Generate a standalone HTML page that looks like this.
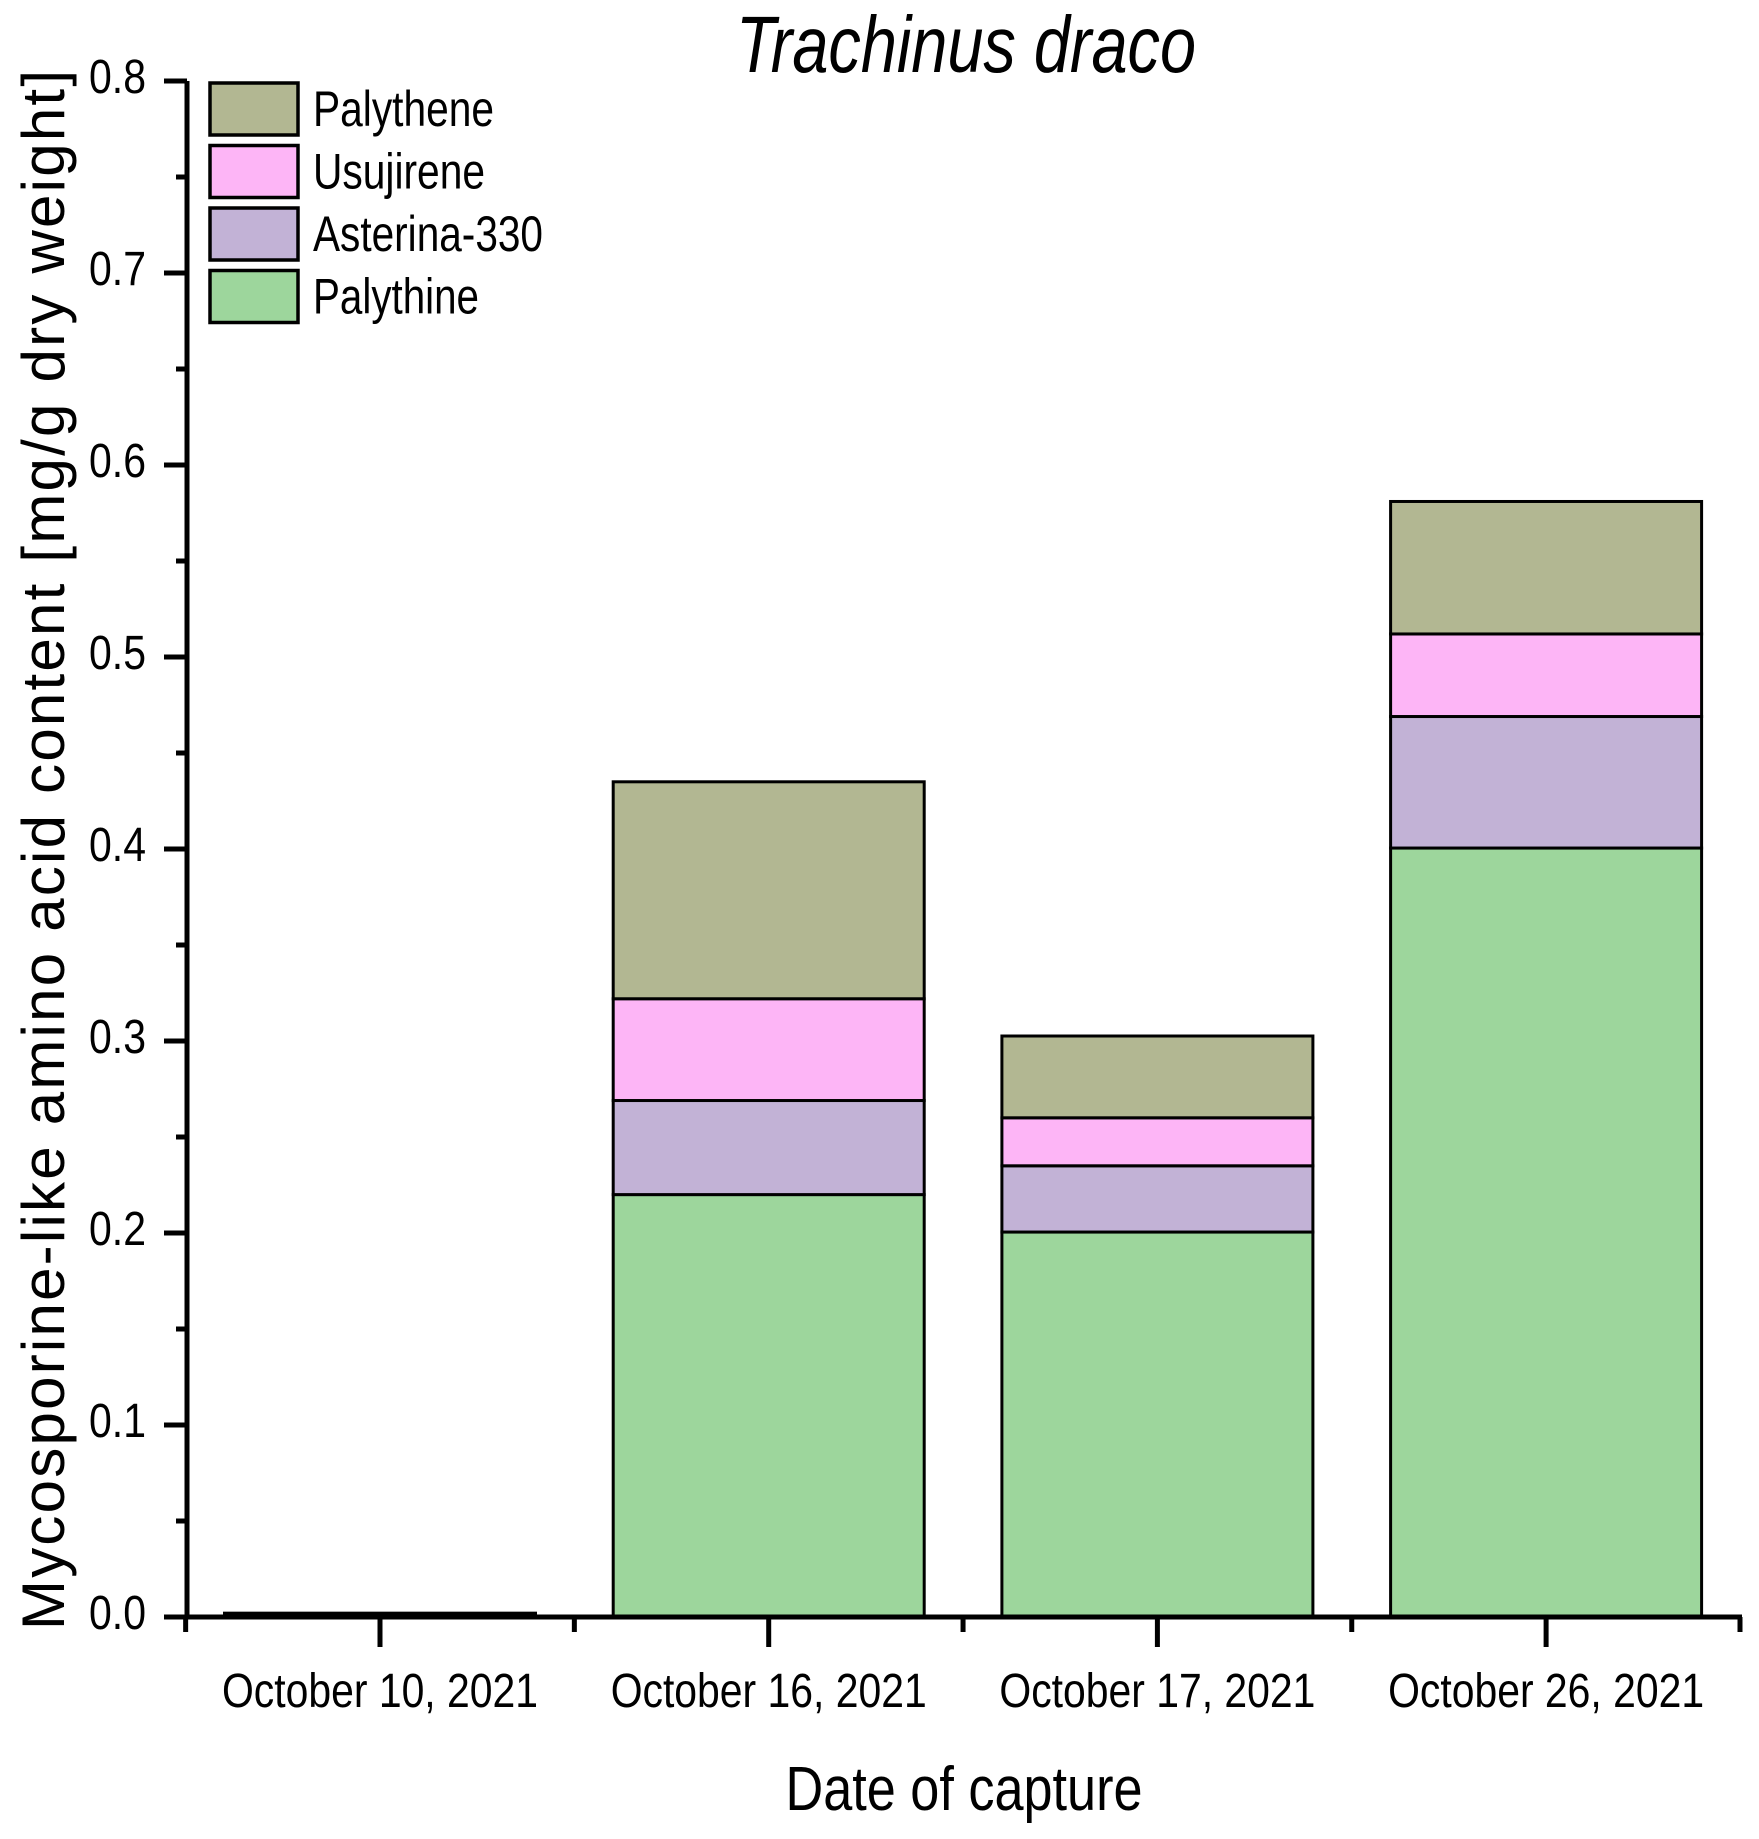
<!DOCTYPE html>
<html><head><meta charset="utf-8"><style>
html,body{margin:0;padding:0;background:#fff;}
svg{display:block;font-family:"Liberation Sans Narrow","Liberation Sans",sans-serif;}
</style></head><body>
<svg id="chart" width="1759" height="1839" viewBox="0 0 1759 1839" xmlns="http://www.w3.org/2000/svg">
<text x="966" y="72" font-size="80" font-style="italic" text-anchor="middle" textLength="460" lengthAdjust="spacingAndGlyphs">Trachinus draco</text>
<text transform="translate(64,850) rotate(-90)" font-size="60" text-anchor="middle" textLength="1560" lengthAdjust="spacing" style="font-family:'Liberation Sans',sans-serif">Mycosporine-like amino acid content [mg/g dry weight]</text>
<text x="964" y="1810" font-size="62" text-anchor="middle" textLength="357" lengthAdjust="spacingAndGlyphs">Date of capture</text>
<g id="bars"></g>
<g id="axes"></g>
<g id="legend"></g>
</svg>
<script>
const categories = ["October 10, 2021","October 16, 2021","October 17, 2021","October 26, 2021"];
const seriesNames = ["Palythine","Asterina-330","Usujirene","Palythene"];
const palythine = [0.002, 0.220, 0.2005, 0.4005];
const asterina330 = [0, 0.049, 0.0345, 0.0685];
const usujirene = [0, 0.053, 0.025, 0.043];
const palythene = [0, 0.113, 0.0426, 0.069];
const yTicks = [0, 0.1, 0.2, 0.3, 0.4, 0.5, 0.6, 0.7, 0.8];
const yTickLabels = ["0.0","0.1","0.2","0.3","0.4","0.5","0.6","0.7","0.8"];
const colors = ["#9dd69c","#c2b2d6","#fdb5f6","#b2b792"];

const NS = "http://www.w3.org/2000/svg";
const X0 = 187, X1 = 1742, Y0 = 1617;
function yScale(v){ return Y0 - v * 1920; }
function xScale(i){ return 380 + i * 388.7; }
const BW = 311;
function mk(tag, attrs, parent){
  const e = document.createElementNS(NS, tag);
  for (const k in attrs) e.setAttribute(k, attrs[k]);
  parent.appendChild(e); return e;
}
const bars = document.getElementById('bars');
const series = [palythine, asterina330, usujirene, palythene];
categories.forEach((c, i) => {
  let base = 0;
  series.forEach((s, si) => {
    const v = s[i];
    if (v <= 0) return;
    const yt = yScale(base + v), yb = yScale(base);
    const r = mk('rect', {x: xScale(i) - BW/2, y: yt, width: BW, height: Math.max(yb - yt, 1), fill: colors[si], stroke: '#000', 'stroke-width': 3}, bars);
    
    
    base += v;
  });
});
const axes = document.getElementById('axes');
let l = mk('line', {x1: X0, y1: Y0 + 2, x2: X0, y2: yScale(0.8), stroke: '#000', 'stroke-width': 5}, axes);


l = mk('line', {x1: 164, y1: Y0, x2: X1, y2: Y0, stroke: '#000', 'stroke-width': 5}, axes);


yTicks.forEach((t, i) => {
  const y = yScale(t);
  const tk = mk('line', {x1: 164, y1: y, x2: X0, y2: y, stroke: '#000', 'stroke-width': 5}, axes);
  
  
  if (i < yTicks.length - 1) {
    const ym = yScale(t + 0.05);
    const mt = mk('line', {x1: 176, y1: ym, x2: X0, y2: ym, stroke: '#000', 'stroke-width': 5}, axes);
    
    
  }
  const tx = mk('text', {x: 146, y: y + 12, 'font-size': 48, 'text-anchor': 'end', textLength: 57, lengthAdjust: 'spacingAndGlyphs'}, axes);
  tx.textContent = yTickLabels[i];
  
  
});
categories.forEach((c, i) => {
  const x = xScale(i);
  const tk = mk('line', {x1: x, y1: Y0, x2: x, y2: 1647, stroke: '#000', 'stroke-width': 5}, axes);
  
  
  const tx = mk('text', {x: x, y: 1707, 'font-size': 48, 'text-anchor': 'middle', textLength: 316, lengthAdjust: 'spacingAndGlyphs'}, axes);
  tx.textContent = c;
  
  
});
for (let i = 0; i <= categories.length; i++) {
  const x = Math.min(xScale(i - 0.5), X1 - 2);
  const mt = mk('line', {x1: x, y1: Y0, x2: x, y2: 1632, stroke: '#000', 'stroke-width': 5}, axes);
  
  
}
const legend = document.getElementById('legend');
const legOrder = [3, 2, 1, 0];
const legWidths = [181, 172, 230, 166];
legOrder.forEach((si, k) => {
  const y = 83 + k * 62.5;
  const r = mk('rect', {x: 210, y: y, width: 88, height: 52, fill: colors[si], stroke: '#000', 'stroke-width': 3.5}, legend);
  
  
  const t = mk('text', {x: 313, y: y + 43, 'font-size': 50, textLength: legWidths[k], lengthAdjust: 'spacingAndGlyphs'}, legend);
  t.textContent = seriesNames[si];
  
  
});
</script>
</body></html>
